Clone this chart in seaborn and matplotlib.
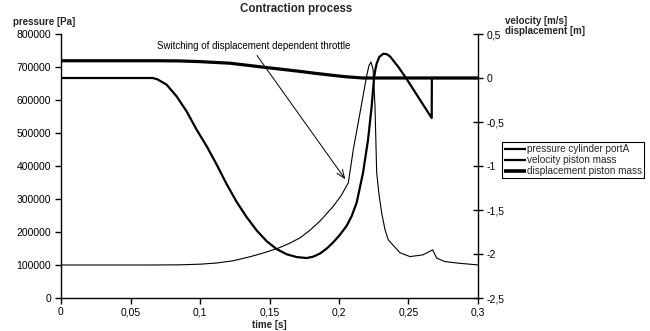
import matplotlib
matplotlib.use("Agg")
import matplotlib.pyplot as plt
import seaborn as sns
import pandas as pd

# ---------------- data ----------------
pressure_t = [0, 0.064, 0.0856, 0.1, 0.112, 0.124, 0.136, 0.146, 0.1563, 0.164,
              0.1719, 0.179, 0.1863, 0.1957, 0.2015, 0.2067, 0.2103, 0.2151, 0.2199,
              0.2216, 0.223, 0.2245, 0.2259, 0.2271, 0.2288, 0.2307, 0.2331, 0.2355,
              0.2439, 0.2511, 0.2604, 0.2674, 0.2703, 0.2763, 0.287, 0.3]
pressure_p = [100000, 100000, 100500, 102500, 106000, 113000, 125000, 137000, 151000, 165000,
              182000, 205000, 233000, 277000, 310000, 349000, 450000, 561000, 673000,
              705000, 715000, 693000, 581000, 380000, 313000, 258000, 207000, 176000,
              137000, 125500, 130700, 146000, 120700, 110300, 105000, 100300]

velocity_t = [0, 0.066, 0.0695, 0.076, 0.0832, 0.0904, 0.0976, 0.1048, 0.112, 0.1192,
              0.1264, 0.1336, 0.1408, 0.148, 0.1552, 0.1624, 0.1696, 0.1768, 0.1815,
              0.1863, 0.191, 0.1957, 0.2005, 0.2055, 0.2091, 0.2127, 0.2173, 0.2209,
              0.2235, 0.2252, 0.2262, 0.2271, 0.229, 0.2319, 0.2345, 0.2367, 0.2424,
              0.2482, 0.2667, 0.2668, 0.3]
velocity_v = [0, 0, -0.016, -0.076, -0.209, -0.38, -0.588, -0.775, -0.984, -1.207,
              -1.409, -1.582, -1.733, -1.855, -1.945, -2.003, -2.035, -2.046, -2.03,
              -1.995, -1.94, -1.87, -1.785, -1.68, -1.57, -1.417, -1.076, -0.701,
              -0.323, 0.0, 0.1, 0.165, 0.24, 0.276, 0.27, 0.245, 0.132,
              0.0, -0.455, 0.0, 0.0]

disp_t = [0, 0.07, 0.085, 0.1, 0.1216, 0.135, 0.147, 0.16, 0.172, 0.183, 0.1935,
          0.205, 0.2173, 0.3]
disp_d = [0.196, 0.196, 0.194, 0.186, 0.168, 0.143, 0.12, 0.097, 0.075, 0.053, 0.034,
          0.014, 0.0, 0.0]

x_ticks = [0, 0.05, 0.1, 0.15, 0.2, 0.25, 0.3]
x_tick_labels = ["0", "0,05", "0,1", "0,15", "0,2", "0,25", "0,3"]
left_ticks = [0, 100000, 200000, 300000, 400000, 500000, 600000, 700000, 800000]
left_tick_labels = [str(v) for v in left_ticks]
right_ticks = [-2.5, -2, -1.5, -1, -0.5, 0, 0.5]
right_tick_labels = ["-2,5", "-2", "-1,5", "-1", "-0,5", "0", "0,5"]

series_names = ["pressure cylinder portA", "velocity piston mass", "displacement piston mass"]

df_p = pd.DataFrame({"t": pressure_t, "y": pressure_p})
df_v = pd.DataFrame({"t": velocity_t, "y": velocity_v})
df_d = pd.DataFrame({"t": disp_t, "y": disp_d})

# ---------------- style ----------------
sns.set_theme(style="ticks")
plt.rcParams["font.family"] = ["Liberation Sans", "DejaVu Sans"]
plt.rcParams["axes.edgecolor"] = "black"
plt.rcParams["axes.linewidth"] = 1.0

W, H = 650, 331
fig = plt.figure(figsize=(W / 100, H / 100), dpi=100)
ax = fig.add_axes([61 / W, 1 - 298 / H, (478 - 61) / W, (298 - 34) / H])
ax2 = ax.twinx()

sns.lineplot(data=df_p, x="t", y="y", ax=ax, color="black", linewidth=0.8,
             estimator=None, sort=False, label=series_names[0], legend=False)
sns.lineplot(data=df_v, x="t", y="y", ax=ax2, color="black", linewidth=1.6,
             estimator=None, sort=False, label=series_names[1], legend=False)
sns.lineplot(data=df_d, x="t", y="y", ax=ax2, color="black", linewidth=2.3,
             estimator=None, sort=False, label=series_names[2], legend=False)
for a in (ax, ax2):
    for ln in a.get_lines():
        ln.set_solid_joinstyle("round")
        ln.set_solid_capstyle("butt")

ax.set_xlim(0, 0.3)
ax.set_ylim(0, 800000)
ax2.set_ylim(-2.5, 0.5)

ax.set_xticks(x_ticks)
ax.set_xticklabels(x_tick_labels)
ax.set_yticks(left_ticks)
ax.set_yticklabels(left_tick_labels)
ax2.set_yticks(right_ticks)
ax2.set_yticklabels(right_tick_labels)

for a in (ax, ax2):
    a.spines["top"].set_visible(False)
    a.set_ylabel("")
    a.set_xlabel("")
ax.spines["right"].set_visible(False)
ax2.spines["left"].set_visible(False)
ax2.spines["bottom"].set_visible(False)
ax2.spines["right"].set_color("black")

ax.tick_params(axis="y", direction="out", length=4, width=1, pad=3, labelsize=7.5, colors="black")
ax.tick_params(axis="x", direction="out", length=4, width=1, pad=2.5, labelsize=7.5, colors="black")
ax2.tick_params(axis="y", direction="inout", length=7, width=1, pad=3, labelsize=7.5, colors="black")

ax.set_xlabel("time [s]", fontsize=7, fontweight="bold", labelpad=2)

fig.text(296 / W, 1 - 9 / H, "Contraction process", ha="center", va="center",
         fontsize=8.3, fontweight="bold")
fig.text(13 / W, 1 - 22 / H, "pressure [Pa]", ha="left", va="center",
         fontsize=7, fontweight="bold")
fig.text(505 / W, 1 - 26 / H, "velocity [m/s]\ndisplacement [m]", ha="left", va="center",
         fontsize=7, fontweight="bold", linespacing=1.0)

# annotation
ax.text(0.069, 763000, "Switching of displacement dependent throttle", ha="left",
        va="center", fontsize=7, color="black")
ax.annotate("", xy=(0.2045, 360000), xytext=(0.141, 735000),
            arrowprops=dict(arrowstyle="->,head_length=0.5,head_width=0.2",
                            lw=0.7, color="black", shrinkA=0, shrinkB=0))

# legend
h1, l1 = ax.get_legend_handles_labels()
h2, l2 = ax2.get_legend_handles_labels()
leg = ax2.legend(h1 + h2, l1 + l2, loc="upper left",
                 bbox_to_anchor=(502 / W, 1 - 142 / H), bbox_transform=fig.transFigure,
                 fontsize=7.2, frameon=True, fancybox=False, shadow=False,
                 handlelength=2.2, handletextpad=0.1, borderpad=0.2,
                 labelspacing=0.12, borderaxespad=0)
leg.get_frame().set_edgecolor("black")
leg.get_frame().set_linewidth(0.8)
leg.get_frame().set_alpha(1)
leg_lines = leg.get_lines()
for ln, lw in zip(leg_lines, [1.6, 1.6, 2.6]):
    ln.set_linewidth(lw)

fig.savefig("out.png", dpi=100, facecolor="white")
